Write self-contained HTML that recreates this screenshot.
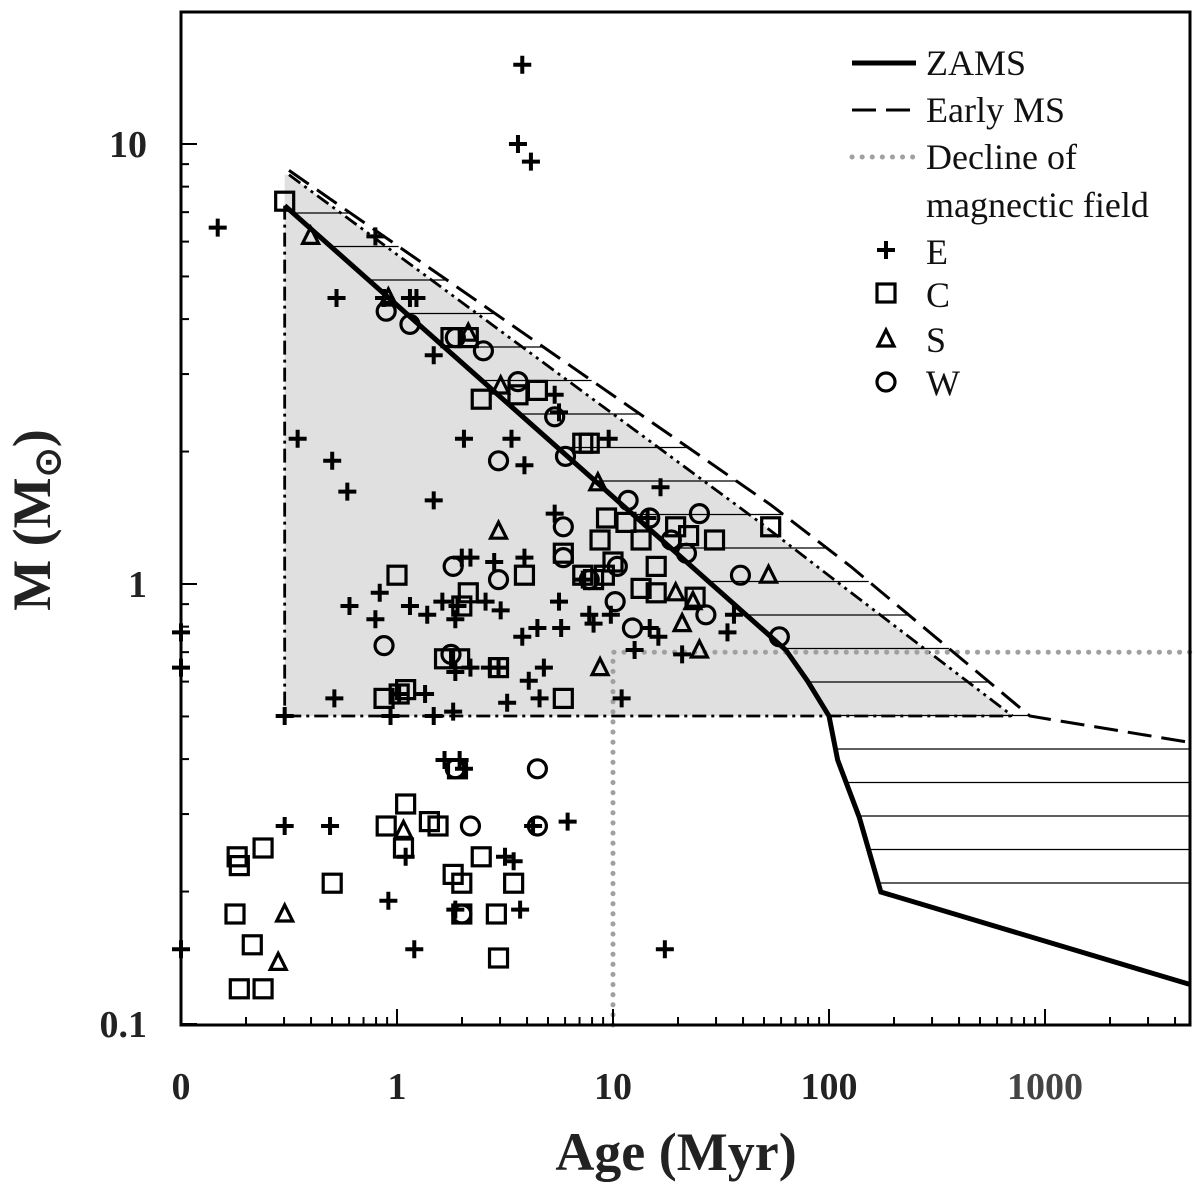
<!DOCTYPE html>
<html><head><meta charset="utf-8"><style>
body{margin:0;background:#fff}
svg{display:block;font-family:"Liberation Serif",serif}
</style></head><body>
<svg id="chart" width="1200" height="1186" viewBox="0 0 1200 1186" xmlns="http://www.w3.org/2000/svg">
<g id="bg"></g><g id="lines"></g><g id="marks"></g><g id="axes"></g><g id="legend"></g>
</svg>
<script>
// log10(Age/Myr), log10(M/Msun)
const eAge=[0.58,0.56,0.62,-0.83,-0.10,-0.28,0.06,0.09,-0.06,0.17,-0.46,-0.30,-0.23,0.17,0.31,0.53,0.59,0.73,0.75,0.98,1.22,1.16,0.73,0.30,0.34,0.45,0.59,0.48,-0.08,-0.22,-0.10,0.06,0.14,0.21,0.28,0.41,0.58,0.65,0.76,0.91,1.10,1.17,1.21,1.32,1.53,1.56,0.34,0.43,0.47,0.68,0.61,0.27,0.13,0.17,0.01,-0.03,-0.29,-0.52,-1.00,-1.00,1.04,0.22,0.29,0.31,0.79,0.63,0.50,0.54,0.57,0.04,-0.04,-0.31,-0.52,-1.00,0.08,1.24,0.27,0.99,0.86,0.75,0.27,0.51,0.66,0.26,0.89];
const eMass=[1.18,1.00,0.96,0.81,0.79,0.65,0.65,0.65,0.65,0.52,0.33,0.28,0.21,0.19,0.33,0.33,0.27,0.43,0.39,0.33,0.22,0.15,0.16,0.06,0.06,0.05,0.06,-0.06,-0.02,-0.05,-0.08,-0.05,-0.07,-0.04,-0.05,-0.04,-0.12,-0.10,-0.10,-0.09,-0.15,-0.10,-0.12,-0.16,-0.11,-0.07,-0.19,-0.19,-0.19,-0.19,-0.22,-0.20,-0.25,-0.30,-0.25,-0.30,-0.26,-0.30,-0.11,-0.19,-0.26,-0.40,-0.40,-0.42,-0.54,-0.55,-0.62,-0.63,-0.74,-0.62,-0.72,-0.55,-0.55,-0.83,-0.83,-0.83,-0.74,-0.07,0.01,-0.04,-0.08,-0.27,-0.26,-0.29,-0.07];
const cAge=[-0.52,0.25,0.33,0.39,0.56,0.65,0.86,0.89,0.97,0.94,0.00,0.59,0.77,0.86,0.91,0.96,1.00,1.06,1.13,1.20,1.29,1.35,1.47,1.73,0.33,0.30,0.22,0.29,0.47,-0.06,0.01,0.04,0.77,1.13,1.20,1.38,0.28,0.04,-0.05,0.03,0.15,0.19,0.26,0.30,0.39,0.54,-0.62,-0.74,-0.73,-0.75,-0.30,0.30,0.46,-0.67,-0.73,-0.62,0.47];
const cMass=[0.87,0.56,0.56,0.42,0.43,0.44,0.32,0.32,0.15,0.10,0.02,0.02,0.07,0.02,0.01,0.02,0.05,0.14,0.10,0.04,0.13,0.11,0.10,0.13,-0.02,-0.05,-0.17,-0.17,-0.19,-0.26,-0.25,-0.24,-0.26,-0.01,-0.02,-0.03,-0.42,-0.50,-0.55,-0.60,-0.54,-0.55,-0.66,-0.68,-0.62,-0.68,-0.60,-0.62,-0.64,-0.75,-0.68,-0.75,-0.75,-0.82,-0.92,-0.92,-0.85];
const sAge=[-0.40,-0.04,0.33,0.48,0.47,0.93,0.94,1.32,1.40,1.72,1.29,1.37,-0.52,-0.55,0.03];
const sMass=[0.79,0.65,0.57,0.45,0.12,0.23,-0.19,-0.09,-0.15,0.02,-0.02,-0.04,-0.75,-0.86,-0.56];
const wAge=[-0.05,0.06,0.27,0.40,0.56,0.73,0.78,0.47,0.77,0.77,0.26,0.47,0.89,1.02,1.01,1.09,1.07,1.17,1.27,1.40,1.34,1.59,1.43,1.77,-0.06,0.25,0.27,0.65,0.65,0.34,0.30];
const wMass=[0.62,0.59,0.56,0.53,0.46,0.38,0.29,0.28,0.13,0.06,0.04,0.01,0.01,0.04,-0.04,-0.10,0.19,0.15,0.10,0.16,0.07,0.02,-0.07,-0.12,-0.14,-0.16,-0.42,-0.42,-0.55,-0.55,-0.75];
const zamsAge=[-0.52,1.80,1.90,2.00,2.04,2.14,2.24,3.67];
const zamsMass=[0.86,-0.15,-0.22,-0.30,-0.40,-0.53,-0.70,-0.91];
const emsAge=[-0.50,1.73,2.10,2.93,3.67];
const emsMass=[0.94,0.18,0.04,-0.30,-0.36];
const ddAge=[-0.50,1.68,2.05,2.85];
const ddMass=[0.93,0.14,0.0,-0.30];
const regionLeftAge=-0.52, regionBottomMass=-0.30;
const declineAge=1.0, declineMass=-0.155;
const xTicks=["0","1","10","100","1000"];
const yTicks=["0.1","1","10"];

const NS="http://www.w3.org/2000/svg";
const X0=181,X1=1190,Y0=12,Y1=1025;
const sx=v=>397+v*216, sy=v=>584-v*440;
function mk(tag,attrs,parent){const e=document.createElementNS(NS,tag);for(const k in attrs)e.setAttribute(k,attrs[k]);parent.appendChild(e);return e;}
const bg=document.getElementById('bg'),lines=document.getElementById('lines'),marks=document.getElementById('marks'),axes=document.getElementById('axes'),leg=document.getElementById('legend');
function pts(a,m){return a.map((v,i)=>sx(v)+","+sy(m[i])).join(" ");}
function interpX(a,m,yp){for(let i=0;i<a.length-1;i++){const y1=sy(m[i]),y2=sy(m[i+1]);if((yp-y1)*(yp-y2)<=0&&y1!==y2){return sx(a[i])+(yp-y1)/(y2-y1)*(sx(a[i+1])-sx(a[i]));}}return X1;}
let poly=sx(regionLeftAge)+","+sy(ddMass[0])+" "+pts(ddAge,ddMass)+" "+sx(regionLeftAge)+","+sy(regionBottomMass);
let r=mk('polygon',{points:poly,fill:'#e0e0e0',stroke:'none'},bg);


for(let yp=213;yp<=900;yp+=33.5){const xa=interpX(zamsAge,zamsMass,yp);let xb=interpX(emsAge,emsMass,yp);if(yp>sy(emsMass[emsMass.length-1]))xb=X1;if(xb>xa){const h=mk('line',{x1:xa,y1:yp,x2:xb,y2:yp,stroke:'#000','stroke-width':1.2},bg);}}
let dd=mk('polyline',{points:sx(regionLeftAge)+","+sy(zamsMass[0])+" "+sx(regionLeftAge)+","+sy(regionBottomMass)+" "+sx(ddAge[ddAge.length-1])+","+sy(regionBottomMass),fill:'none',stroke:'#000','stroke-width':2.8,'stroke-dasharray':'14,5,3,5'},lines);


let dd2=mk('polyline',{points:pts(ddAge,ddMass),fill:'none',stroke:'#000','stroke-width':2.8,'stroke-dasharray':'14,5,3,5,3,5'},lines);


let dc=mk('polyline',{points:sx(declineAge)+","+Y1+" "+sx(declineAge)+","+sy(declineMass)+" "+X1+","+sy(declineMass),fill:'none',stroke:'#a0a0a0','stroke-width':5,'stroke-dasharray':'0.1,10','stroke-linecap':'round'},lines);


let em=mk('polyline',{points:pts(emsAge,emsMass),fill:'none',stroke:'#000','stroke-width':3,'stroke-dasharray':'24,10'},lines);


let zl=mk('polyline',{points:pts(zamsAge,zamsMass),fill:'none',stroke:'#000','stroke-width':5},lines);


function plus(x,y,g){mk('path',{d:`M${x-9},${y}h18M${x},${y-9}v18`,stroke:'#000','stroke-width':4,fill:'none'},g);}
function square(x,y,g){mk('rect',{x:x-9,y:y-9,width:18,height:18,stroke:'#000','stroke-width':3.2,fill:'none'},g);}
function tri(x,y,g){mk('polygon',{points:`${x},${y-9} ${x-8},${y+7} ${x+8},${y+7}`,stroke:'#000','stroke-width':3.2,fill:'none'},g);}
function circ(x,y,g){mk('circle',{cx:x,cy:y,r:9,stroke:'#000','stroke-width':3.2,fill:'none'},g);}
function series(a,m,fn,name){const g=mk('g',{},marks);a.forEach((v,i)=>fn(sx(v),sy(m[i]),g));}
series(eAge,eMass,plus,'e');series(cAge,cMass,square,'c');series(sAge,sMass,tri,'s');series(wAge,wMass,circ,'w');
let fr=mk('rect',{x:X0,y:Y0,width:X1-X0,height:Y1-Y0,fill:'none',stroke:'#000','stroke-width':3},axes);


for(let d=-1;d<=3;d++){for(let k=1;k<10;k++){const x=sx(d+Math.log10(k));if(x>X1)break;const L=k===1?16:8;mk('line',{x1:x,y1:Y1,x2:x,y2:Y1-L,stroke:'#000','stroke-width':2},axes);}}
for(let d=-1;d<=1;d++){for(let k=1;k<10;k++){const y=sy(d+Math.log10(k));if(y<Y0)break;const L=k===1?16:8;mk('line',{x1:X0,y1:y,x2:X0+L,y2:y,stroke:'#000','stroke-width':2},axes);}}
xTicks.forEach((t,i)=>{const e=mk('text',{x:sx(i-1),y:1099,'text-anchor':'middle','font-size':38,'font-weight':'bold',fill:i===4?'#444':'#222'},axes);e.textContent=t;});
yTicks.forEach((t,i)=>{const e=mk('text',{x:147,y:sy(i-1)+13,'text-anchor':'end','font-size':38,'font-weight':'bold',fill:'#222'},axes);e.textContent=t;});
let xt=mk('text',{x:676,y:1170,'text-anchor':'middle','font-size':54,'font-weight':'bold',fill:'#222'},axes);xt.textContent='Age (Myr)';


let yt=mk('text',{x:0,y:0,'text-anchor':'middle','font-size':54,'font-weight':'bold',fill:'#222',transform:'translate(50,520) rotate(-90)'},axes);
yt.innerHTML='M (M<tspan font-size="36" dy="10">\u2299</tspan><tspan dy="-10">)</tspan>';


function ltext(t,y){const e=mk('text',{x:926,y:y+12,'font-size':36,fill:'#111'},leg);e.textContent=t;}
mk('line',{x1:852,y1:63,x2:916,y2:63,stroke:'#000','stroke-width':5},leg);ltext('ZAMS',63);
mk('line',{x1:852,y1:110,x2:916,y2:110,stroke:'#000','stroke-width':3,'stroke-dasharray':'24,10'},leg);ltext('Early MS',110);
mk('line',{x1:852,y1:157,x2:916,y2:157,stroke:'#a0a0a0','stroke-width':5,'stroke-dasharray':'0.1,10','stroke-linecap':'round'},leg);ltext('Decline of',157);ltext('magnectic field',205);
const lg=leg;plus(886,250,lg);ltext('E',252);square(886,293,lg);ltext('C',295);tri(886,339,lg);ltext('S',340);circ(886,382,lg);ltext('W',383);
</script>
</body></html>
